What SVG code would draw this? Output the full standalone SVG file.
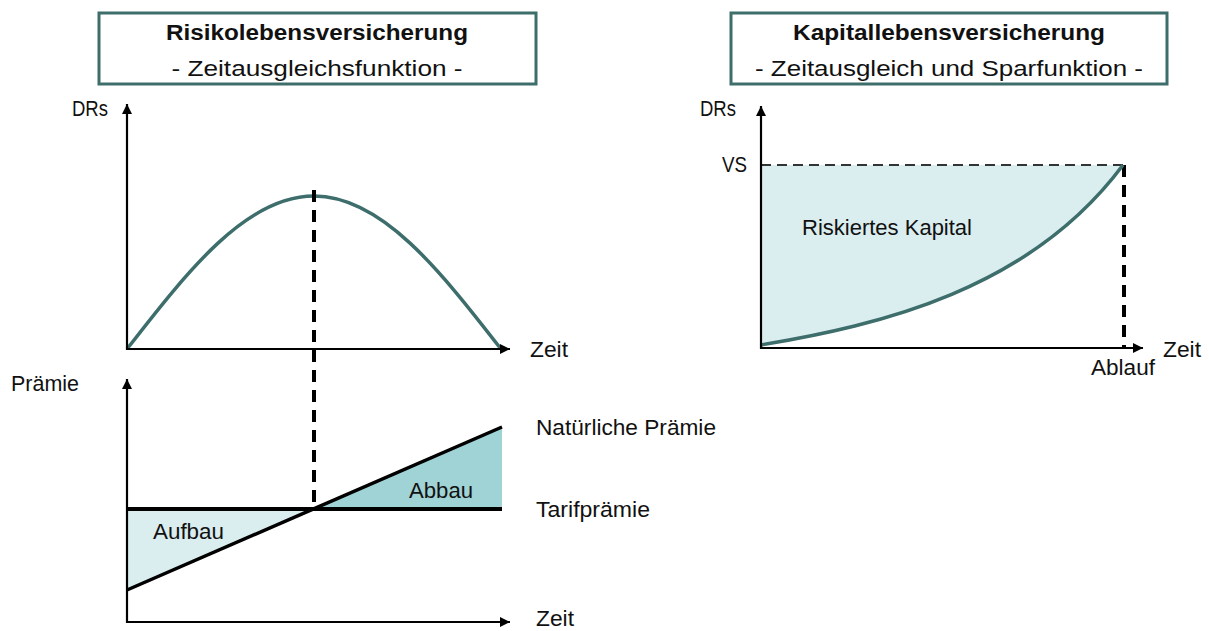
<svg xmlns="http://www.w3.org/2000/svg" width="1209" height="631" viewBox="0 0 1209 631">
<defs>
<marker id="arr" viewBox="0 0 10 10" refX="10" refY="5" markerWidth="11" markerHeight="10" markerUnits="userSpaceOnUse" orient="auto">
<path d="M0,0 L10,5 L0,10 z" fill="#000"/>
</marker>
<style>
.t{font-family:"Liberation Sans",Arial,sans-serif;fill:#111;font-size:21.5px}
.tb{font-family:"Liberation Sans",Arial,sans-serif;fill:#111;font-size:22px;font-weight:bold}
.box{fill:#fff;stroke:#3d6e6b;stroke-width:3}
.ax{stroke:#000;stroke-width:2.2;fill:none;marker-end:url(#arr)}
.curve{stroke:#3d6e6b;stroke-width:3.5;fill:none}
.dash{stroke:#000;stroke-width:4;stroke-dasharray:12 8;fill:none}
</style>
</defs>
<rect width="1209" height="631" fill="#fff"/>

<g id="title-left">
<rect class="box" x="99" y="13" width="437" height="71"/>
<text class="tb" x="317" y="40" text-anchor="middle" textLength="302" lengthAdjust="spacingAndGlyphs">Risikolebensversicherung</text>
<text class="t" x="317" y="76" text-anchor="middle" font-size="22" textLength="291" lengthAdjust="spacingAndGlyphs">- Zeitausgleichsfunktion -</text>
</g>
<g id="title-right">
<rect class="box" x="731" y="13" width="436" height="71"/>
<text class="tb" x="949" y="40" text-anchor="middle" textLength="312" lengthAdjust="spacingAndGlyphs">Kapitallebensversicherung</text>
<text class="t" x="949" y="76" text-anchor="middle" font-size="22" textLength="388" lengthAdjust="spacingAndGlyphs">- Zeitausgleich und Sparfunktion -</text>
</g>

<g id="chart-drs-left">
<path class="curve" d="M127,349 C188,270.6 246.3,196 314,196 C381.7,196 440,270.6 501,349"/>
<line class="ax" x1="127" y1="350" x2="127" y2="104"/>
<line class="ax" x1="126" y1="349" x2="510" y2="349"/>
<text class="t" x="72" y="116" textLength="36" lengthAdjust="spacingAndGlyphs">DRs</text>
<text class="t" x="530" y="357" textLength="38" lengthAdjust="spacingAndGlyphs">Zeit</text>
</g>

<g id="chart-praemie">
<polygon points="127,509 313,509 127,590" fill="#daedef"/>
<polygon points="313,509 502,427 502,509" fill="#a0d3d6"/>
<line x1="127" y1="509" x2="502" y2="509" stroke="#000" stroke-width="4"/>
<line x1="127" y1="590" x2="502" y2="427" stroke="#000" stroke-width="3.5"/>
<line class="ax" x1="127" y1="623" x2="127" y2="379"/>
<line class="ax" x1="126" y1="622" x2="510" y2="622"/>
<text class="t" x="11" y="391" textLength="68" lengthAdjust="spacingAndGlyphs">Prämie</text>
<text class="t" x="153" y="539" textLength="71" lengthAdjust="spacingAndGlyphs">Aufbau</text>
<text class="t" x="409" y="498" textLength="64" lengthAdjust="spacingAndGlyphs">Abbau</text>
<text class="t" x="536" y="435" textLength="180" lengthAdjust="spacingAndGlyphs">Natürliche Prämie</text>
<text class="t" x="536" y="517" textLength="114" lengthAdjust="spacingAndGlyphs">Tarifprämie</text>
<text class="t" x="536" y="626" textLength="38" lengthAdjust="spacingAndGlyphs">Zeit</text>
</g>

<g id="connectors">
<line class="dash" x1="314" y1="190" x2="314" y2="509"/>
</g>

<g id="chart-kapital">
<path d="M761,165 L1123,165 C1030,290 880,325 761,345 Z" fill="#daedef"/>
<line x1="761" y1="165" x2="1123" y2="165" stroke="#333" stroke-width="2" stroke-dasharray="10 6"/>
<line x1="1124" y1="165" x2="1124" y2="348" stroke="#000" stroke-width="4" stroke-dasharray="12 8"/>
<path class="curve" d="M761,345 C880,325 1030,290 1123,165"/>
<line class="ax" x1="761" y1="349" x2="761" y2="106"/>
<line class="ax" x1="760" y1="348" x2="1143" y2="348"/>
<text class="t" x="700" y="116" textLength="36" lengthAdjust="spacingAndGlyphs">DRs</text>
<text class="t" x="722" y="172" textLength="25" lengthAdjust="spacingAndGlyphs">VS</text>
<text class="t" x="802" y="235" textLength="170" lengthAdjust="spacingAndGlyphs">Riskiertes Kapital</text>
<text class="t" x="1163" y="357" textLength="38" lengthAdjust="spacingAndGlyphs">Zeit</text>
<text class="t" x="1091" y="375" textLength="64" lengthAdjust="spacingAndGlyphs">Ablauf</text>
</g>
</svg>
